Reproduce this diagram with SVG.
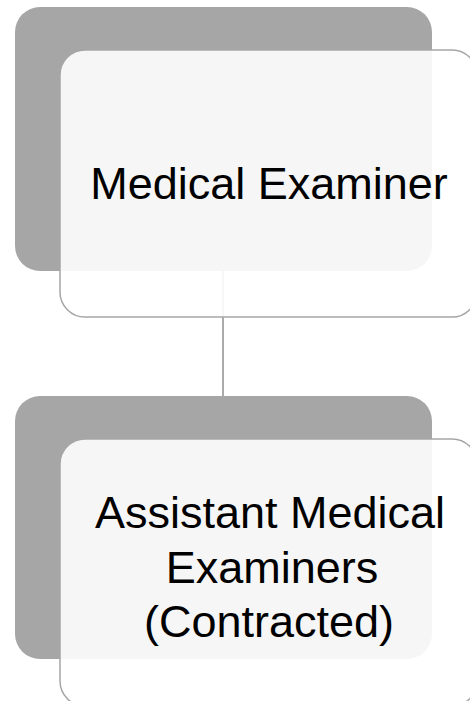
<svg xmlns="http://www.w3.org/2000/svg" width="470" height="701" viewBox="0 0 470 701">
  <style>
    .back { fill: #a6a6a6; }
    .front { fill: #ffffff; fill-opacity: 0.9; stroke: #a6a6a6; stroke-width: 1.5; }
    .label { font-family: "Liberation Sans", Arial, sans-serif; font-size: 45px; fill: #000000; text-anchor: middle; }
    .link { stroke: #8f8f8f; stroke-width: 1.5; fill: none; }
  </style>
  <rect width="470" height="701" fill="#ffffff"/>

  <!-- connectors -->
  <g id="connectors">
    <line class="link" x1="223" y1="271" x2="223" y2="396"/>
  </g>

  <!-- node: Medical Examiner -->
  <g id="node-medical-examiner">
    <rect class="back" x="15" y="7" width="417" height="264" rx="25" ry="25"/>
    <rect class="front" x="60" y="50" width="417" height="267" rx="25" ry="25"/>
    <text class="label" x="269" y="199">Medical Examiner</text>
  </g>

  <!-- node: Assistant Medical Examiners -->
  <g id="node-assistant-examiners">
    <rect class="back" x="15" y="396" width="417" height="263" rx="25" ry="25"/>
    <rect class="front" x="60" y="439" width="417" height="267" rx="25" ry="25"/>
    <text class="label" x="270" y="528">Assistant Medical</text>
    <text class="label" x="272" y="583">Examiners</text>
    <text class="label" x="269" y="637">(Contracted)</text>
  </g>
</svg>
